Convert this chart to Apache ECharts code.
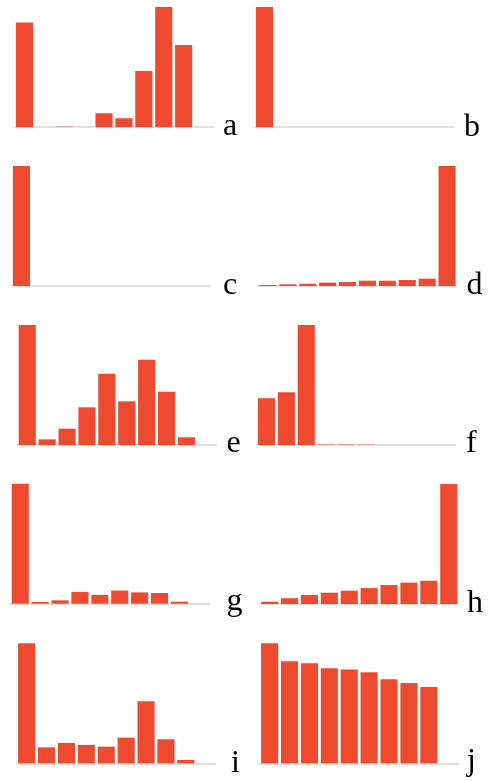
<!DOCTYPE html>
<html>
<head>
<meta charset="utf-8">
<script src="https://cdn.jsdelivr.net/npm/echarts@6/dist/echarts.min.js"></script>
<style>
html,body{margin:0;padding:0;background:#fff;}
#chart{width:489px;height:781px;}
</style>
</head>
<body>
<div id="chart"></div>
<script>
// Categories (10 bins per panel)
const categories = ['1','2','3','4','5','6','7','8','9','10'];
// Panel labels
const panelLabels = ['a','b','c','d','e','f','g','h','i','j'];
// Series values (relative heights, panel max = 100)
const valuesA = [87, 0, 0.3, 0, 11.4, 7.3, 46.7, 100, 68.3, 0];
const valuesB = [100, 0, 0, 0, 0, 0, 0, 0, 0, 0];
const valuesC = [100, 0, 0, 0, 0, 0, 0, 0, 0, 0];
const valuesD = [0.8, 1.4, 1.9, 2.8, 3.3, 4.4, 4.4, 5, 6.1, 100];
const valuesE = [100, 4.7, 13.6, 31.4, 59.4, 36.4, 71.1, 44.4, 6.4, 0];
const valuesF = [39, 44, 100, 0.4, 0.4, 0.3, 0, 0, 0, 0];
const valuesG = [100, 1.4, 2.8, 9.8, 7.3, 10.9, 9.4, 8.9, 1.7, 0];
const valuesH = [1.9, 4.8, 7.5, 9.4, 11.1, 13.3, 15.8, 17.8, 19.4, 100];
const valuesI = [100, 13.3, 16.9, 15.3, 13.9, 21.4, 51.7, 20, 2.8, 0];
const valuesJ = [100, 85, 83.3, 79.2, 78.1, 75.8, 70, 66.9, 63.6, 0];
const allValues = [valuesA, valuesB, valuesC, valuesD, valuesE, valuesF, valuesG, valuesH, valuesI, valuesJ];

// Layout (positions kept separate from data)
const gridLefts = [14.5, 254.5, 11.5, 258, 17.3, 256.5, 10.3, 259.7, 16.7, 259.7];
const axisYs = [127, 127, 286, 286, 445, 445, 603.7, 604, 763.3, 763.3];
const labelPos = [[223,136],[464,136.5],[223,295],[466.5,294.5],[226.5,452.5],[466,453],[226.5,611],[467,612.5],[231,772.5],[467,770.5]];
const labelAscent = 25;
const gridW = 199, gridH = 120;

const grids = [], xAxes = [], yAxes = [], series = [], graphics = [];
allValues.forEach((vals, k) => {
  grids.push({left: gridLefts[k], top: axisYs[k] - gridH, width: gridW, height: gridH});
  xAxes.push({
    type: 'category', gridIndex: k, data: categories,
    axisLine: {show: true, lineStyle: {color: '#d6d6d6', width: 1.5}},
    axisTick: {show: false}, axisLabel: {show: false}, splitLine: {show: false}
  });
  yAxes.push({
    type: 'value', gridIndex: k, min: 0, max: 100,
    show: false, splitLine: {show: false}
  });
  series.push({
    type: 'bar', xAxisIndex: k, yAxisIndex: k, data: vals,
    barCategoryGap: '14%',
    itemStyle: {color: '#ee4a30', borderWidth: 0},
    silent: true, animation: false
  });
  graphics.push({
    type: 'text', x: labelPos[k][0], y: labelPos[k][1] - labelAscent, silent: true,
    style: {text: panelLabels[k], font: '32px "Liberation Serif", "DejaVu Serif", serif', fill: '#000', textAlign: 'left'}
  });
});

const chart = echarts.init(document.getElementById('chart'), null, {renderer: 'canvas'});
chart.setOption({
  backgroundColor: '#ffffff',
  animation: false,
  grid: grids, xAxis: xAxes, yAxis: yAxes, series: series,
  graphic: graphics
});
</script>
</body>
</html>
